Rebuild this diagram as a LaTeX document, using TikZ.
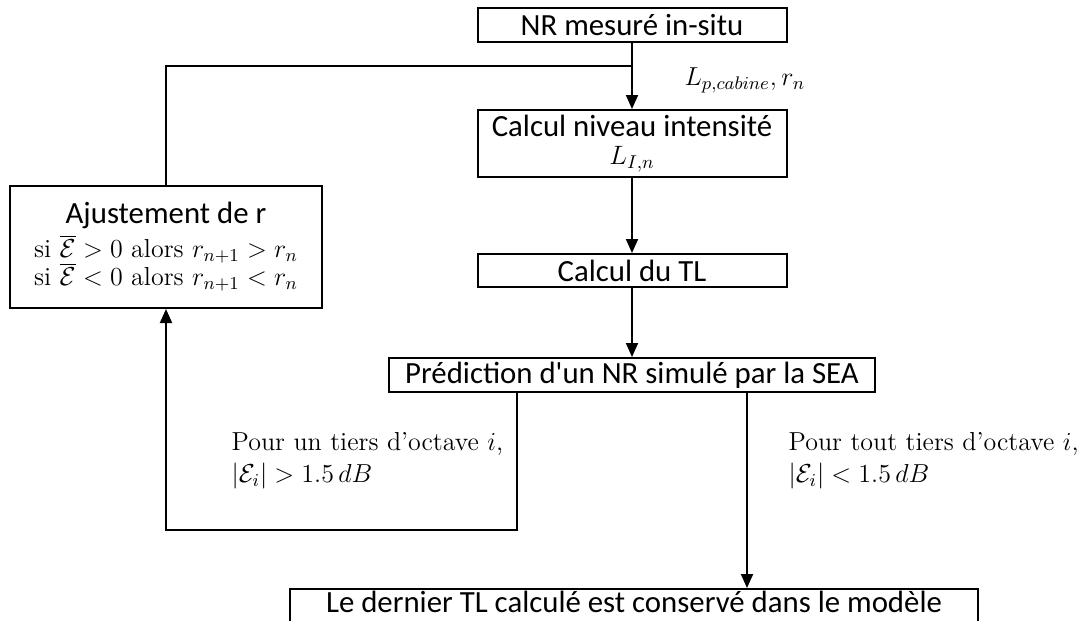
\RequirePackage{fix-cm}
\documentclass[tikz,border=0pt]{standalone}
\usepackage{amsmath, amssymb}
\usepackage{fontspec}
\newfontfamily\boitefont{Carlito}
\usepackage{tikz}
\usetikzlibrary{arrows.meta, positioning}

\begin{document}
\begin{tikzpicture}[x=0.5pt, y=-0.5pt, line width=1pt,
    every node/.append style={font=\fontsize{13}{16}\selectfont},
    boite/.style={rectangle, draw, inner sep=2pt, align=center, font=\boitefont\fontsize{15.4}{17}\selectfont},
    fleche/.style={-{Triangle[length=7pt, width=6pt]}}]
    \useasboundingbox (0,0) rectangle (1087,621);

    % Colonne centrale
    \node[boite, minimum width=154.5pt, minimum height=17pt] (nr) at (632,25) {NR mesuré in-situ};
    \node[boite, minimum width=154.5pt, minimum height=33.5pt, below=33pt of nr] (niveau) {Calcul niveau intensité\\[-3pt]{\fontsize{13.3}{15}\selectfont$L_{I,n}$}};
    \node[boite, minimum width=154.5pt, minimum height=16.5pt, below=37.5pt of niveau] (tl) {Calcul du TL};
    \node[boite, minimum width=243pt, minimum height=17pt, below=34.5pt of tl] (pred) {Prédiction d\textquotesingle un NR simulé par la SEA};
    \node[boite, minimum width=344pt, text height=9.5pt, text depth=5pt, anchor=base] (fin) at (634,612) {Le dernier TL calculé est conservé dans le modèle};

    % Boucle d'ajustement
    \node[boite, minimum width=156pt, minimum height=61pt] (ajust) at (166,247) {Ajustement de r\\[0pt]
        {\rmfamily\fontsize{13}{16}\selectfont si $\overline{\mathcal{E}} > 0$ alors $r_{n+1} > r_n$}\\[-3pt]
        {\rmfamily\fontsize{13}{16}\selectfont si $\overline{\mathcal{E}} < 0$ alors $r_{n+1} < r_n$}};

    % Etiquettes
    \node[anchor=west] (lp) at (677,80) {$L_{p,cabine}, r_n$};
    \node[anchor=north west, align=left] (tiers1) at (224,425) {Pour un tiers d'octave $i$,\\ $|\mathcal{E}_i| > 1.5\,dB$};
    \node[anchor=north west, align=left] (tiers2) at (781,425) {Pour tout tiers d'octave $i$,\\ $|\mathcal{E}_i| < 1.5\,dB$};

    % Connecteurs
    \coordinate (jonction) at (nr.south |- 0,66);
    \draw[fleche] (nr) -- (niveau);
    \draw (jonction) -| (ajust.north);
    \draw[fleche] (niveau) -- (tl);
    \draw[fleche] (tl) -- (pred);

    \coordinate (gauche) at ([xshift=-57.5pt]pred.south);
    \coordinate (coin) at (gauche |- 0,530);
    \draw[fleche] (gauche) -- (coin) -| (ajust.south);

    \coordinate (droite) at ([xshift=57.5pt]pred.south);
    \draw[fleche] (droite) -- (droite |- fin.north);
\end{tikzpicture}
\end{document}
